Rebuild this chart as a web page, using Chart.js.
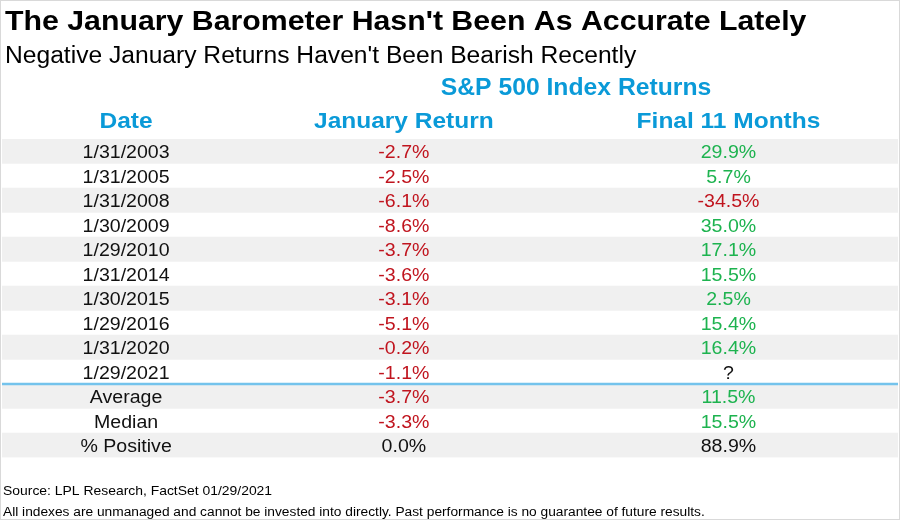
<!DOCTYPE html>
<html>
<head>
<meta charset="utf-8">
<script src="https://cdn.jsdelivr.net/npm/chart.js@4.4.1/dist/chart.umd.min.js"></script>
<style>
  html, body { margin: 0; padding: 0; background: #fff; }
  #wrap { width: 900px; height: 520px; }
</style>
</head>
<body>
<div id="wrap"><canvas id="chartTabla" width="900" height="520"></canvas></div>
<script>
// datos de la tabla
const dates = ['1/31/2003', '1/31/2005', '1/31/2008', '1/30/2009', '1/29/2010', '1/31/2014', '1/30/2015', '1/29/2016', '1/31/2020', '1/29/2021'];
const janReturns = [-2.7, -2.5, -6.1, -8.6, -3.7, -3.6, -3.1, -5.1, -0.2, -1.1];
const final11 = [29.9, 5.7, -34.5, 35.0, 17.1, 15.5, 2.5, 15.4, 16.4, null];
const summaryLabels = ['Average', 'Median', '% Positive'];
const summaryJan = [-3.7, -3.3, 0.0];
const summaryFinal = [11.5, 15.5, 88.9];
const columnHeaders = ['Date', 'January Return', 'Final 11 Months'];

const FONT = '"Liberation Sans", Arial, sans-serif';
const RED = '#c0141e', GREEN = '#1db34f', BLUE = '#0a9ad8', BLACK = '#111';
const SX = 1.07; // el original tiene el texto algo ensanchado
const colX = [0.1385, 0.4485, 0.8108]; // centro de cada columna en la escala x (0..1)

const rowLabels = dates.concat(summaryLabels);
const bands = rowLabels.map((_, i) => (i % 2 === 0 ? [0, 1] : null));

function fmt(v) { return v === null ? '?' : v.toFixed(1) + '%'; }
function colorOf(v, isPct) { if (v === null || isPct) return BLACK; return v < 0 ? RED : GREEN; }

function txt(ctx, s, x, y) {
  ctx.save(); ctx.translate(x, y); ctx.scale(SX, 1); ctx.fillText(s, 0, 0); ctx.restore();
}

const tablaPlugin = {
  id: 'tabla',
  afterDatasetsDraw(chart) {
    const { ctx, scales: { x, y }, chartArea } = chart;
    ctx.save();
    ctx.textBaseline = 'alphabetic';

    // titulos
    ctx.fillStyle = '#000'; ctx.textAlign = 'left';
    ctx.font = 'bold 28.3px ' + FONT;
    txt(ctx, "The January Barometer Hasn't Been As Accurate Lately", 5, 30);
    ctx.font = '23px ' + FONT;
    txt(ctx, "Negative January Returns Haven't Been Bearish Recently", 5, 63);

    ctx.fillStyle = BLUE; ctx.textAlign = 'center';
    ctx.font = 'bold 23.1px ' + FONT;
    txt(ctx, 'S&P 500 Index Returns', 576, 95);
    ctx.font = 'bold 22.9px ' + FONT;
    columnHeaders.forEach((h, c) => txt(ctx, h, x.getPixelForValue(colX[c]), 128));

    // celdas
    ctx.font = '18.3px ' + FONT;
    rowLabels.forEach((lab, i) => {
      const py = y.getPixelForValue(i) + 7;
      const isSummary = i >= dates.length;
      const isPct = lab === '% Positive';
      const jv = isSummary ? summaryJan[i - dates.length] : janReturns[i];
      const fv = isSummary ? summaryFinal[i - dates.length] : final11[i];
      ctx.fillStyle = BLACK;
      txt(ctx, lab, x.getPixelForValue(colX[0]), py);
      ctx.fillStyle = colorOf(jv, isPct);
      txt(ctx, fmt(jv), x.getPixelForValue(colX[1]), py);
      ctx.fillStyle = colorOf(fv, isPct);
      txt(ctx, fmt(fv), x.getPixelForValue(colX[2]), py);
    });

    // linea separadora antes del resumen
    const ly = (y.getPixelForValue(dates.length - 1) + y.getPixelForValue(dates.length)) / 2;
    ctx.strokeStyle = '#74c3ec'; ctx.lineWidth = 2.5;
    ctx.beginPath(); ctx.moveTo(chartArea.left, ly); ctx.lineTo(chartArea.right, ly); ctx.stroke();

    // notas
    ctx.fillStyle = '#000'; ctx.textAlign = 'left';
    ctx.font = '13px ' + FONT;
    txt(ctx, 'Source: LPL Research, FactSet 01/29/2021', 3, 495);
    ctx.font = '12.85px ' + FONT;
    txt(ctx, 'All indexes are unmanaged and cannot be invested into directly. Past performance is no guarantee of future results.', 3, 516);

    ctx.strokeStyle = '#d9d9d9'; ctx.lineWidth = 1;
    ctx.strokeRect(0.5, 0.5, chart.width - 1, chart.height - 1);
    ctx.restore();
  }
};

new Chart(document.getElementById('chartTabla'), {
  type: 'bar',
  data: {
    labels: rowLabels,
    datasets: [{ data: bands, backgroundColor: '#f0f0f0', borderWidth: 0, barPercentage: 1, categoryPercentage: 1 }]
  },
  options: {
    indexAxis: 'y',
    responsive: false,
    animation: false,
    layout: { padding: { left: 2, right: 2, top: 139, bottom: 62.5 } },
    scales: {
      x: { type: 'linear', min: 0, max: 1, display: false },
      y: { type: 'category', display: false, offset: true }
    },
    plugins: { legend: { display: false }, tooltip: { enabled: false }, title: { display: false } }
  },
  plugins: [tablaPlugin]
});
</script>
</body>
</html>
